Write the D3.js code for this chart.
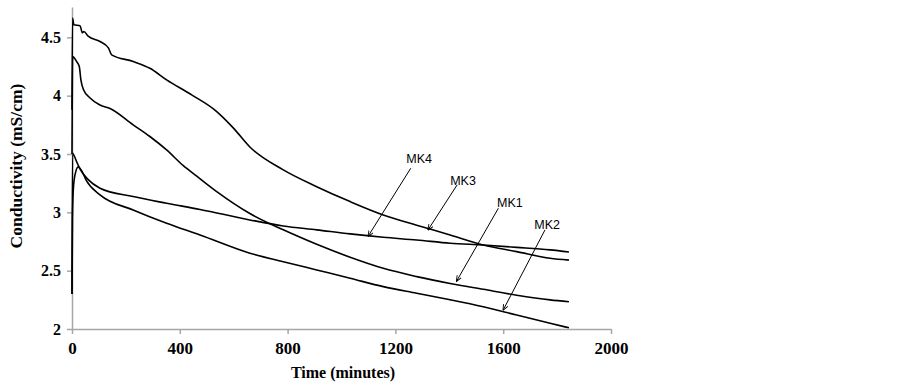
<!DOCTYPE html>
<html>
<head>
<meta charset="utf-8">
<script src="https://cdn.jsdelivr.net/npm/d3@7"></script>
<style>
  body { margin: 0; background: #fff; }
  svg { display: block; }
  .tick text { font-family: "Liberation Serif", "Times New Roman", serif; font-weight: bold; fill: #000; }
</style>
</head>
<body>
<svg id="chart" width="903" height="385"></svg>
<script>
// series data (time in minutes, conductivity in mS/cm)
const mk1Time = [0, 2.5, 17, 27, 33, 42, 67, 104, 141, 227, 289, 351, 413, 463, 537, 660, 784, 908, 1032, 1155, 1279, 1403, 1526, 1650, 1774, 1844];
const mk1Cond = [3.5, 4.335, 4.293, 4.25, 4.136, 4.055, 3.98, 3.92, 3.89, 3.75, 3.65, 3.535, 3.40, 3.31, 3.178, 2.99, 2.85, 2.726, 2.615, 2.52, 2.449, 2.39, 2.34, 2.29, 2.25, 2.234];

const mk2Time = [0, 2, 5, 12, 23, 35, 54, 104, 227, 351, 475, 660, 784, 908, 1032, 1155, 1279, 1403, 1526, 1650, 1774, 1844];
const mk2Cond = [2.3, 2.95, 3.2, 3.33, 3.39, 3.36, 3.27, 3.15, 3.02, 2.906, 2.806, 2.65, 2.577, 2.506, 2.435, 2.363, 2.306, 2.25, 2.19, 2.12, 2.05, 2.01];

const mk3Time = [0, 2, 7, 30, 38, 44, 60, 104, 135, 147, 227, 289, 351, 444, 537, 600, 660, 784, 908, 1032, 1155, 1279, 1403, 1526, 1650, 1774, 1844];
const mk3Cond = [3.88, 4.665, 4.607, 4.60, 4.54, 4.55, 4.51, 4.464, 4.41, 4.35, 4.293, 4.235, 4.136, 4.007, 3.864, 3.72, 3.56, 3.364, 3.22, 3.092, 2.978, 2.89, 2.806, 2.72, 2.663, 2.606, 2.59];

const mk4Time = [0, 2, 17, 30, 60, 104, 227, 351, 475, 660, 784, 908, 1032, 1155, 1279, 1403, 1526, 1650, 1774, 1844];
const mk4Cond = [2.3, 3.507, 3.435, 3.37, 3.28, 3.207, 3.135, 3.078, 3.025, 2.935, 2.883, 2.85, 2.815, 2.786, 2.763, 2.735, 2.72, 2.70, 2.678, 2.66];

// tick labels
const xTicks = [0, 400, 800, 1200, 1600, 2000];
const yTicks = [2, 2.5, 3, 3.5, 4, 4.5];

// annotations: label position and arrow start/end, in data units
const labelNames = ["MK4", "MK3", "MK1", "MK2"];
const labelPos   = [[1288, 3.424], [1451, 3.235], [1625, 3.046], [1763, 2.858]];
const arrowFrom  = [[1257, 3.378], [1429, 3.235], [1582, 3.035], [1755, 2.849]];
const arrowTo    = [[1099, 2.796], [1321, 2.849], [1427, 2.41], [1600, 2.163]];

const svg = d3.select("#chart");

const x = d3.scaleLinear().domain([0, 2000]).range([72, 611]);
const y = d3.scaleLinear().domain([2, 4.76]).range([329, 7]);

// axes
const xAxis = svg.append("g")
    .attr("transform", `translate(0,${y(2)})`)
    .call(d3.axisBottom(x).tickValues(xTicks).tickSize(5).tickSizeOuter(0).tickFormat(d3.format("d")));
xAxis.selectAll("text").style("font-size", "17px").attr("dy", "1.0em");

const yAxis = svg.append("g")
    .attr("transform", `translate(${x(0)},0)`)
    .call(d3.axisLeft(y).tickValues(yTicks).tickSize(5).tickSizeOuter(0).tickFormat(d => d));
yAxis.selectAll("text").style("font-size", "16px").attr("x", -11);

svg.selectAll(".domain, .tick line").attr("stroke", "#a6a6a6").attr("stroke-width", 1.5);

// axis titles
svg.append("text")
    .attr("x", 343)
    .attr("y", 378)
    .attr("text-anchor", "middle")
    .style("font-family", "'Liberation Serif', serif")
    .style("font-weight", "bold")
    .style("font-size", "16px")
    .text("Time (minutes)");

svg.append("text")
    .attr("transform", "translate(22,166) rotate(-90)")
    .attr("text-anchor", "middle")
    .style("font-family", "'Liberation Serif', serif")
    .style("font-weight", "bold")
    .style("font-size", "17.5px")
    .text("Conductivity (mS/cm)");

// lines
const series = [
    [mk1Time, mk1Cond],
    [mk2Time, mk2Cond],
    [mk3Time, mk3Cond],
    [mk4Time, mk4Cond]
];

const line = d3.line()
    .x(d => x(d[0]))
    .y(d => y(d[1]))
    .curve(d3.curveMonotoneX);

series.forEach(([t, c]) => {
    svg.append("path")
        .datum(t.map((v, i) => [v, c[i]]))
        .attr("fill", "none")
        .attr("stroke", "#000")
        .attr("stroke-width", 1.6)
        .attr("d", line);
});

// arrowhead
svg.append("defs").append("marker")
    .attr("id", "arrow")
    .attr("viewBox", "0 0 10 10")
    .attr("refX", 9)
    .attr("refY", 5)
    .attr("markerWidth", 6)
    .attr("markerHeight", 6)
    .attr("orient", "auto")
    .append("path")
    .attr("d", "M0,1 L10,5 L0,9")
    .attr("fill", "none")
    .attr("stroke", "#000")
    .attr("stroke-width", 1.5);

// annotations
labelNames.forEach((name, i) => {
    svg.append("line")
        .attr("x1", x(arrowFrom[i][0]))
        .attr("y1", y(arrowFrom[i][1]))
        .attr("x2", x(arrowTo[i][0]))
        .attr("y2", y(arrowTo[i][1]))
        .attr("stroke", "#000")
        .attr("stroke-width", 1)
        .attr("marker-end", "url(#arrow)");

    svg.append("text")
        .attr("x", x(labelPos[i][0]))
        .attr("y", y(labelPos[i][1]))
        .attr("text-anchor", "middle")
        .style("font-family", "'Liberation Sans', Arial, sans-serif")
        .style("font-size", "12.5px")
        .text(name);
});
</script>
</body>
</html>
